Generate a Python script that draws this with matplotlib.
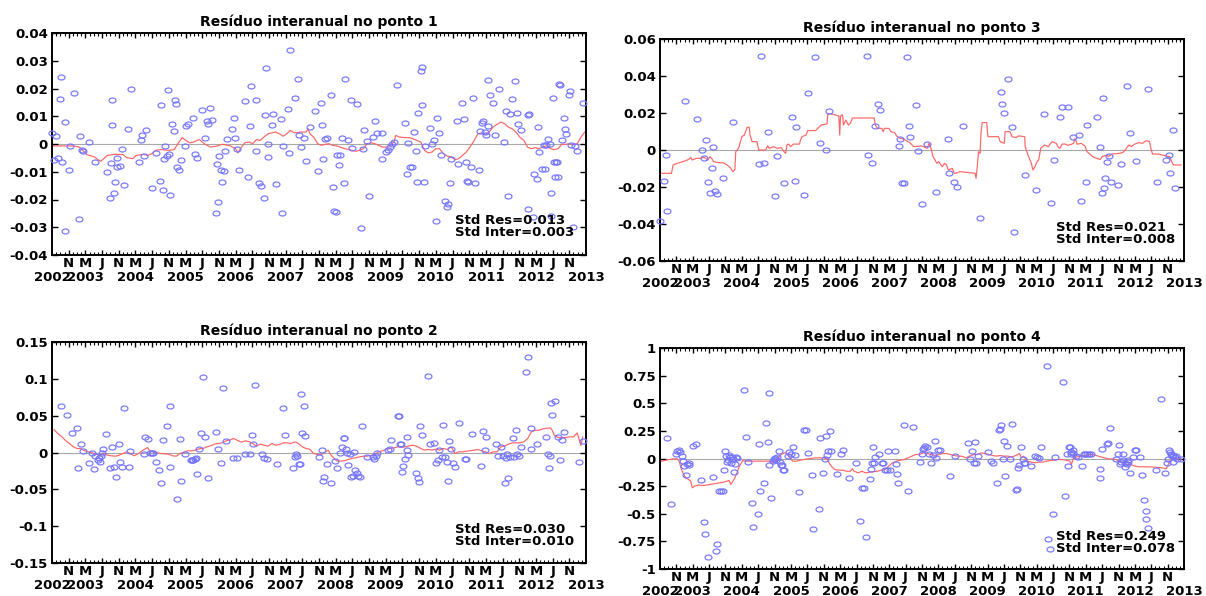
import matplotlib
matplotlib.use('Agg')
import matplotlib.pyplot as plt
import numpy as np

plt.rcParams['font.family'] = ['DejaVu Sans']
plt.rcParams['font.weight'] = 'bold'

# x values are months counted from January 2002 (0 = Jan 2002)
month_letters = ['N', 'M', 'J']
year_labels = ['2002', '2003', '2004', '2005', '2006', '2007', '2008',
               '2009', '2010', '2011', '2012', '2013']

# ---------------- Ponto 1 (values x 1e-3) ----------------
p1_res = [(6.1,4.0),(6.5,-5.9),(7.0,3.0),(7.4,-4.9),(7.9,16.2),(8.1,24.1),(8.5,-6.4),(9.0,-31.3),(9.1,7.9),
(10.2,-0.7),(10.0,-9.5),(11.3,18.5),(12.5,-26.9),(12.7,2.8),(13.2,-2.3),(13.4,-2.6),(14.8,0.8),(16.4,-6.5),
(19.1,-10.1),(19.8,-19.4),(20.2,-6.8),(20.3,16.0),(20.5,6.7),(20.9,-17.5),(21.2,-13.7),(21.5,-4.9),(21.6,-8.3),
(22.4,-7.9),(22.8,-1.9),(23.2,-14.8),(24.2,5.5),(25.0,20.0),(26.8,-6.4),(27.3,1.6),(27.6,3.4),(28.0,-4.3),
(28.5,4.9),(29.9,-15.7),(31.0,-3.4),(32.0,-13.2),(32.1,14.2),(32.6,-16.7),(32.9,-5.4),(33.2,-0.7),(33.5,-4.2),
(34.0,-3.7),(33.7,19.6),(34.4,-18.5),(34.7,7.3),(35.2,4.6),(35.5,15.7),(35.8,14.3),(36.0,-8.3),(36.4,-9.2),
(36.9,-5.9),(37.9,-0.7),(38.1,6.4),(38.5,7.1),(39.9,9.5),(40.2,-3.7),(40.8,-5.2),(42.0,12.4),(42.7,2.3),
(43.1,8.3),(43.4,7.3),(43.9,13.1),(44.3,8.8),(45.2,-24.7),(45.6,-7.1),(46.0,-4.4),(45.9,-20.9),(46.5,-9.5),
(46.8,-13.8),(47.2,-9.6),(47.5,-2.5),(48.0,1.7),(49.1,5.3),(49.7,9.5),(49.9,2.2),(50.4,-1.7),(50.9,-9.4),
(52.3,15.4),(53.0,-11.9),(53.5,6.5),(53.7,20.9),(54.8,15.8),(55.0,-2.4),(55.7,-14.0),(56.1,-15.2),(56.7,-19.4),
(57.0,10.4),(57.3,27.5),(57.8,-0.1),(57.8,-4.8),(58.7,7.0),(58.9,10.7),(59.6,-14.5),(60.8,9.0),(61.1,-24.7),
(61.4,-0.7),(62.5,12.5),(62.7,-3.4),(63.1,33.7),(64.2,16.4),(64.9,23.3),(65.3,3.4),(65.8,-1.2),(66.5,2.2),
(66.9,-6.0),(67.8,6.1),(69.0,11.8),(69.7,-9.7),(70.4,14.9),(70.8,7.0),(71.0,-5.3),(71.5,1.9),(72.0,2.2),
(72.9,17.8),(73.3,-15.5),(73.6,-24.1),(74.0,-24.6),(74.2,-3.8),(74.7,-7.6),(75.0,-3.8),(75.4,2.3),(75.9,-14.0),
(76.3,23.6),(77.0,1.3),(77.7,15.7),(77.9,-1.4),(79.1,14.3),(80.0,-30.4),(80.6,-1.9),(80.9,4.9),(81.5,1.0),
(82.0,-18.7),(82.9,2.5),(83.4,8.2),(83.8,4.0),(85.0,4.1),(85.2,-5.4),(86.1,-2.9),(86.6,-2.3),(87.0,-1.1),
(87.5,0.1),(88.0,0.7),(88.7,21.4),(90.5,7.6),(91.2,-10.7),(91.4,0.4),(91.9,-8.3),(92.3,-8.3),(92.8,4.3),
(93.3,-2.6),(93.4,-13.7),(93.7,11.3),(94.4,26.3),(94.6,27.7),(94.8,14.0),(95.1,-13.8),(95.5,-0.7),(96.6,5.8),
(97.1,0.1),(97.6,1.3),(98.0,-27.7),(98.3,9.5),(98.7,4.1),(99.2,-4.1),(100.1,-20.6),(100.6,-22.7),(100.9,-21.7),
(101.5,-14.0),(101.7,-5.3),(103.0,8.3),(103.3,-7.2),(104.2,14.8),(104.7,9.1),(105.2,-6.4),(105.5,-13.3),
(105.8,-13.8),(106.4,-8.3),(107.0,16.7),(107.4,-14.0),(108.4,-9.2),(108.5,4.6),(109.0,7.7),(109.3,8.3),
(109.9,4.3),(110.1,3.4),(110.6,6.5),(110.4,22.9),(111.1,17.6),(111.6,14.9),(112.2,3.4),(113.1,19.7),(114.3,0.7),
(114.8,12.0),(115.2,-18.8),(115.7,10.9),(116.3,16.1),(117.0,22.7),(117.5,11.3),(117.7,7.3),(118.4,4.9),
(120.0,10.3),(120.2,-23.3),(120.4,10.9),(121.2,-26.3),(121.6,-10.7),(122.3,-12.5),(122.5,6.2),(122.7,-3.0),
(123.4,-9.1),(123.9,-0.5),(124.1,-8.9),(124.5,-0.2),(125.0,1.9),(125.3,-0.1),(125.5,-17.6),(125.7,-26.0),
(126.2,16.4),(126.4,-6.5),(126.6,-11.9),(126.8,-6.5),(127.1,-6.5),(127.3,-11.9),(127.6,21.5),(127.8,21.2),
(128.2,1.3),(128.7,9.5),(128.9,5.4),(129.3,3.7),(129.9,17.8),(130.2,19.1),(130.5,-0.5),(131.0,-29.9),
(131.4,-0.8),(131.9,-2.5),(133.2,14.9)]

p1_inter = [(6.1,-0.7),(8.8,-0.7),(11.1,-0.7),(12.5,-1.1),(13.4,-2.3),(14.3,-3.8),(15.2,-4.2),(16.1,-4.6),
(17.0,-5.6),(17.7,-6.2),(18.4,-5.3),(19.3,-4.1),(21.2,-3.7),(23.0,-3.8),(23.9,-4.9),(25.3,-5.3),(26.2,-4.1),
(28.0,-3.7),(28.9,-4.2),(29.9,-3.5),(30.8,-2.3),(32.1,-2.0),(34.0,-2.3),(35.3,-2.0),(36.3,0.4),(37.2,2.3),
(38.1,1.3),(39.0,0.4),(39.9,0.7),(41.3,1.6),(42.7,-0.1),(44.0,-1.1),(45.4,-0.8),(46.8,-0.1),(48.6,-0.6),
(50.0,-1.7),(50.6,-3.2),(51.4,-1.1),(52.3,0.5),(53.2,0.7),(54.1,0.1),(55.0,1.6),(55.9,1.3),(56.8,2.5),
(57.8,3.7),(58.7,4.0),(59.6,4.3),(60.5,3.7),(61.4,2.8),(62.3,3.7),(63.1,4.9),(64.2,4.0),(65.5,4.3),(66.9,4.3),
(67.4,5.5),(67.8,3.7),(68.7,2.5),(69.7,0.1),(70.6,-0.5),(71.5,-0.1),(72.4,0.1),(73.3,-0.5),(74.2,-0.7),
(75.1,-1.1),(76.1,-1.7),(77.0,-1.9),(77.9,-2.3),(78.8,-2.6),(79.7,-2.3),(80.6,-1.7),(81.5,0.1),(82.5,0.4),
(83.4,0.1),(84.3,-0.5),(85.2,-1.1),(86.1,-1.1),(87.0,-0.5),(88.0,0.7),(88.4,3.1),(89.3,2.5),(90.7,2.3),
(91.6,2.3),(92.5,1.9),(93.4,1.3),(94.4,0.7),(95.3,-2.3),(96.2,-3.2),(97.1,-2.9),(98.0,-1.7),(98.9,-1.7),
(99.8,-3.5),(100.8,-4.4),(101.7,-4.7),(102.6,-5.6),(103.5,-5.3),(104.4,-4.1),(105.3,-2.9),(106.2,-1.1),
(107.2,1.3),(108.1,3.7),(109.0,4.0),(109.9,3.5),(110.8,4.3),(111.7,6.1),(112.7,7.1),(113.6,7.9),(114.5,7.3),
(115.4,6.1),(116.3,5.5),(117.2,4.3),(118.1,2.5),(119.1,1.3),(120.0,-1.1),(120.9,-1.7),(121.8,-1.3),
(122.7,-1.7),(123.6,-1.1),(124.5,-0.7),(125.5,-1.7),(126.4,-2.0),(127.3,-1.7),(128.2,-0.1),(129.1,-0.1),
(130.0,0.1),(131.0,-0.2),(131.9,0.1),(132.8,2.5),(133.7,4.3)]

# ---------------- Ponto 3 (values x 1e-3) ----------------
p3_res = [(6.1,-38.3),(6.9,-16.6),(7.4,-2.7),(7.8,-33.0),(12.1,26.7),(15.1,17.0),(16.3,0.0),(16.8,-4.2),
(17.3,5.2),(17.7,-17.1),(18.2,-23.1),(18.6,-9.9),(18.9,1.8),(19.4,-22.0),(19.9,-23.8),(21.3,-15.0),(23.8,15.2),
(30.2,-7.6),(30.7,50.9),(31.3,-6.9),(32.3,9.6),(34.2,-24.7),(34.6,-3.2),(36.2,-18.1),(38.2,17.7),(39.0,-16.6),
(39.3,12.3),(41.2,-24.2),(42.1,30.9),(43.8,50.0),(45.0,4.0),(46.5,0.0),(47.3,20.9),(56.5,50.9),(56.7,-2.7),
(57.8,-7.2),(58.6,12.8),(59.3,24.9),(59.7,21.5),(64.5,2.3),(64.7,6.0),(65.0,-18.1),(65.6,-17.7),(66.3,50.4),
(66.9,13.2),(67.1,7.2),(68.5,24.2),(69.0,-0.5),(69.9,-29.4),(71.1,3.2),(73.4,-22.9),(76.4,5.8),(76.7,-12.6),
(77.9,-17.3),(78.5,-20.2),(79.9,13.2),(84.2,-37.0),(89.3,31.2),(89.6,24.7),(90.1,20.2),(91.0,38.6),(92.0,12.3),
(92.5,-44.4),(95.1,-13.4),(97.9,-21.7),(99.7,19.5),(101.4,-28.7),(102.3,-5.6),(103.7,18.1),(104.2,23.1),
(105.6,23.5),(107.0,7.2),(108.4,8.3),(108.9,-27.8),(110.0,-17.5),(110.3,13.4),(112.8,18.1),(113.6,1.8),
(114.0,-23.3),(114.3,28.2),(114.5,-20.8),(114.8,-15.0),(115.3,-6.7),(115.7,-3.1),(116.2,-17.1),(117.8,-18.8),
(118.5,-7.6),(120.0,34.8),(120.9,9.4),(122.2,-6.1),(125.1,33.2),(127.4,-17.3),(129.7,-5.4),(130.3,-2.7),
(130.5,-12.3),(131.2,10.8),(131.7,-20.8)]

p3_inter = [(6.4,-12.6),(8.8,-12.6),(9.2,-8.1),(10.2,-7.2),(11.6,-6.3),(13.0,-5.1),(13.5,-4.0),(13.9,-5.4),
(14.9,-4.5),(15.8,-4.5),(16.8,-4.0),(17.7,-5.4),(18.2,-3.6),(18.6,-4.5),(19.1,-6.3),(20.5,-6.9),(21.5,-6.9),
(22.4,-8.1),(23.3,-9.9),(23.8,-11.7),(24.3,-10.5),(24.5,-0.9),(25.2,0.9),(26.0,7.2),(26.6,8.1),(27.3,12.3),
(27.8,12.3),(28.0,8.1),(28.5,4.5),(29.7,4.5),(30.1,0.0),(30.9,0.0),(31.8,0.0),(32.3,2.3),(32.7,0.9),(33.7,1.8),
(34.6,0.9),(35.6,1.3),(36.3,-0.9),(36.7,-1.8),(37.0,2.7),(37.4,3.2),(37.9,1.8),(38.6,3.2),(40.1,3.2),(40.3,5.4),
(40.7,7.2),(41.7,8.1),(42.1,10.5),(44.0,10.5),(45.0,12.6),(45.4,13.5),(46.8,14.1),(47.0,19.3),(47.6,19.5),
(48.7,19.0),(49.7,18.4),(49.9,8.1),(50.1,18.4),(50.6,19.0),(50.8,13.5),(51.4,16.2),(52.0,13.5),(52.5,14.4),
(53.0,17.3),(53.9,17.3),(58.3,17.3),(58.6,13.5),(59.1,11.7),(60.2,11.7),(60.5,9.9),(60.8,11.7),(61.9,11.7),
(62.4,9.9),(63.3,9.4),(63.8,7.6),(64.7,6.3),(65.6,5.8),(67.0,4.0),(68.0,1.8),(69.9,2.2),(70.3,1.8),(71.3,0.9),
(71.7,3.6),(72.2,0.9),(72.7,-3.6),(73.2,-5.4),(73.6,-7.2),(74.1,-6.3),(74.6,-8.1),(75.0,-9.0),(75.5,-7.2),
(76.0,-8.1),(76.4,-10.8),(77.4,-9.9),(77.9,-12.6),(78.3,-12.6),(79.3,-11.7),(83.0,-12.6),(83.2,-15.3),
(83.5,-9.0),(83.8,-0.9),(84.2,-1.8),(84.4,9.0),(84.7,14.8),(85.8,14.8),(86.1,7.2),(88.7,7.2),(89.1,4.5),
(90.1,3.6),(90.3,9.9),(91.5,9.9),(92.0,7.2),(92.9,6.7),(93.6,7.6),(95.1,7.2),(95.2,1.8),(95.9,-2.7),(96.7,-7.2),
(97.1,-10.8),(97.6,-9.0),(98.1,-6.3),(98.5,-5.4),(99.0,0.9),(99.5,1.8),(99.9,2.7),(100.9,1.8),(101.4,3.6),
(101.8,4.5),(102.8,3.6),(103.2,1.8),(103.7,0.9),(104.2,3.2),(105.1,3.2),(105.6,2.5),(106.5,3.1),(107.0,3.6),
(107.4,6.3),(107.9,3.1),(108.9,3.6),(109.8,2.2),(110.3,-0.9),(110.8,-1.8),(111.7,-3.6),(112.6,-4.5),
(113.6,-5.1),(114.0,-3.6),(114.5,-3.2),(115.0,-2.7),(115.5,-3.6),(116.4,-2.2),(118.3,-1.8),(119.0,-1.4),
(119.7,0.0),(120.2,1.8),(120.6,2.7),(121.1,1.8),(121.6,2.7),(122.0,3.2),(123.0,4.0),(123.9,3.6),(124.4,4.5),
(124.8,5.1),(125.6,4.5),(125.8,1.8),(126.3,-2.2),(127.7,-2.2),(128.6,-2.7),(130.5,-3.6),(131.0,-6.3),
(131.4,-8.1),(133.3,-8.1)]

# ---------------- Ponto 2 (values x 1e-3) ----------------
p2_res = [(8.1,62.7),(9.5,51.4),(10.9,26.6),(12.0,33.8),(12.3,-21.6),(12.9,12.2),(13.4,2.7),(14.8,-14.9),
(15.7,-0.5),(16.1,-22.6),(16.4,-5.0),(17.0,-10.4),(17.3,-8.1),(17.5,-13.5),(17.8,-4.5),(18.0,-0.5),(18.2,5.0),
(18.9,25.7),(20.0,-21.6),(20.5,6.8),(20.8,-20.3),(21.4,-33.8),(22.1,12.2),(22.3,-13.5),(22.8,-19.4),(23.3,60.0),
(24.4,-19.4),(24.8,2.7),(28.0,-2.3),(28.2,20.7),(28.9,18.0),(29.4,0.0),(29.9,0.0),(30.3,0.0),(31.0,-12.6),
(31.7,-23.5),(32.1,-41.9),(32.6,17.6),(33.5,36.5),(34.2,63.6),(34.4,-19.4),(36.0,-63.6),(36.7,18.0),
(37.0,-39.2),(37.9,-1.4),(39.2,-10.4),(39.5,-10.8),(39.9,-10.4),(40.2,-9.5),(40.6,-8.1),(40.8,-29.3),(41.3,5.4),
(41.7,26.6),(42.2,102.4),(42.7,21.2),(43.4,-35.2),(45.4,28.0),(45.7,4.1),(46.6,-14.0),(47.1,87.0),(47.7,15.8),
(49.3,-7.7),(50.3,-7.7),(52.3,-2.7),(53.4,-2.7),(53.9,24.4),(54.1,12.2),(54.6,91.1),(56.4,-1.8),(56.8,-6.8),
(57.6,-9.5),(60.0,-15.8),(61.4,60.4),(61.9,24.4),(63.7,-21.6),(64.2,-5.9),(64.4,-1.4),(64.8,-4.5),(65.1,-16.2),
(65.4,-16.2),(65.7,79.4),(66.0,27.1),(66.5,63.1),(66.7,22.1),(70.1,-5.9),(70.8,3.2),(71.0,-38.8),(71.3,-33.8),
(71.8,-15.8),(72.9,-41.0),(73.8,-11.3),(74.2,-21.6),(75.0,0.0),(75.6,7.2),(75.9,20.3),(76.1,19.8),(76.5,5.0),
(76.8,-0.5),(77.0,-17.1),(77.4,-2.3),(77.7,-32.9),(78.2,-31.6),(78.4,0.9),(78.6,-23.9),(79.0,-28.4),
(79.4,-31.6),(79.9,-32.9),(80.2,36.5),(81.5,-5.9),(82.9,-5.9),(83.2,-9.0),(83.7,-4.1),(83.8,-0.5),(86.6,3.2),
(86.9,5.4),(87.3,17.6),(88.9,49.2),(89.1,49.2),(89.3,11.3),(89.6,11.3),(89.8,-26.2),(90.2,-18.5),(90.5,-9.0),
(91.0,21.2),(91.2,3.6),(91.4,-3.6),(93.3,-28.4),(93.7,-34.3),(93.9,-40.6),(94.2,35.6),(94.8,23.9),(96.2,103.3),
(96.6,11.7),(97.6,13.1),(98.0,-14.0),(98.5,-10.4),(98.7,3.2),(99.4,-5.9),(99.7,37.4),(100.1,-5.9),(100.6,-13.5),
(101.0,-38.8),(101.2,15.3),(101.7,5.4),(102.1,-14.4),(102.6,-19.4),(103.5,40.6),(104.9,-8.6),(105.2,-8.6),
(106.7,24.8),(108.8,-18.9),(109.3,29.8),(109.9,3.2),(110.1,21.6),(112.5,12.2),(112.9,-5.0),(113.6,7.7),
(114.0,-5.0),(114.5,-41.9),(114.8,-6.8),(115.0,-2.7),(115.4,-34.3),(115.9,-5.9),(116.6,20.3),(116.8,-5.9),
(117.2,30.2),(117.5,-2.3),(118.0,-4.1),(118.3,7.2),(119.5,109.1),(120.0,129.4),(120.7,4.1),(120.9,32.9),
(122.3,11.3),(124.4,21.6),(124.8,-1.4),(125.1,-21.6),(125.3,-5.0),(125.5,67.2),(125.9,51.4),(126.6,70.4),
(127.3,20.7),(127.8,-10.4),(128.2,17.6),(128.7,28.0),(132.3,-13.1),(133.2,16.2)]

p2_inter = [(6.5,31.1),(7.4,25.7),(8.4,21.2),(9.3,15.8),(10.2,12.2),(11.1,7.7),(12.0,5.4),(12.9,5.4),(13.8,2.3),
(14.8,0.9),(15.7,-0.5),(16.6,-2.3),(17.5,-3.6),(18.4,-1.4),(19.3,-3.6),(20.2,-4.5),(21.2,-5.0),(22.1,-3.6),
(23.0,-1.4),(23.9,0.9),(24.8,-1.4),(25.7,-4.5),(26.7,-1.4),(27.6,2.3),(28.5,5.4),(28.9,6.8),(29.4,2.3),
(30.3,0.9),(32.1,-1.4),(34.0,-2.3),(34.9,-4.5),(35.8,-5.0),(36.7,-1.4),(37.6,0.5),(38.5,2.3),(39.5,2.3),
(40.4,3.2),(41.3,5.0),(42.2,5.4),(43.1,7.7),(44.0,9.0),(44.9,11.3),(45.9,12.2),(46.8,13.1),(47.7,15.8),
(48.6,16.7),(49.5,19.0),(50.4,16.7),(51.4,14.0),(52.3,15.8),(53.2,14.9),(54.1,12.2),(55.0,8.6),(55.9,11.3),
(56.8,9.9),(57.8,8.6),(58.7,12.2),(59.6,9.9),(60.5,10.8),(61.4,13.1),(62.3,13.1),(63.2,12.2),(64.2,14.4),
(65.1,12.2),(66.0,7.7),(66.9,5.4),(67.8,4.5),(68.7,-1.4),(69.7,-2.7),(70.6,-2.7),(71.5,0.9),(72.2,3.2),
(72.9,-3.6),(73.3,-5.9),(74.2,-11.3),(75.1,-11.7),(76.1,-11.3),(77.0,-9.5),(77.9,-8.1),(78.8,-7.2),(79.7,-5.9),
(80.6,-5.0),(81.5,-5.0),(82.5,-4.1),(83.4,-2.3),(84.3,0.9),(85.2,2.3),(86.1,4.5),(87.0,5.4),(88.0,6.3),
(88.9,7.7),(89.8,6.8),(90.7,7.7),(91.6,9.0),(92.5,9.9),(93.4,8.6),(94.4,5.4),(95.3,3.2),(96.2,4.1),(97.1,3.2),
(98.0,4.5),(98.9,3.2),(99.8,5.4),(100.8,4.1),(101.7,7.7),(102.6,-1.4),(103.5,0.9),(104.4,0.9),(105.3,1.8),
(106.2,2.3),(107.2,3.2),(108.1,4.1),(109.0,2.3),(109.9,0.9),(110.8,-1.4),(111.7,0.9),(112.7,0.9),(113.6,7.7),
(114.5,9.0),(115.4,11.3),(116.3,13.1),(118.1,13.1),(119.1,14.4),(120.0,18.9),(120.9,27.9),(121.8,30.2),
(122.7,30.2),(123.6,32.0),(124.5,32.9),(125.5,33.4),(125.9,30.2),(126.4,23.5),(127.3,20.3),(129.1,20.3),
(130.0,21.2),(131.0,21.2),(131.9,26.6),(132.4,16.7),(132.8,9.5),(133.2,21.2)]

# ---------------- Ponto 4 (values in units) ----------------
p4_res = [(7.8,0.19),(8.8,-0.41),(10.0,0.045),(10.2,0.066),(10.7,0.081),(10.9,0.057),(11.3,0.021),(11.6,-0.024),
(11.9,-0.069),(12.3,-0.145),(12.5,-0.054),(13.0,-0.045),(13.2,-0.063),(14.1,0.112),(14.9,0.133),(16.0,-0.199),
(16.8,-0.573),(17.0,-0.681),(17.7,-0.889),(18.9,-0.169),(19.6,-0.838),(19.9,-0.778),(20.3,-0.296),(20.8,-0.296),
(21.3,-0.296),(21.7,-0.106),(21.9,0.066),(22.2,0.021),(22.4,-0.030),(22.7,-0.018),(22.9,0.030),(23.2,0.012),
(23.3,-0.039),(23.5,0.015),(23.8,-0.009),(24.1,-0.124),(24.3,-0.054),(24.5,0.015),(24.9,0.006),(26.4,0.618),
(26.9,0.193),(27.6,-0.030),(28.5,-0.407),(28.8,-0.621),(29.9,-0.498),(30.2,0.127),(30.4,-0.296),(31.3,-0.220),
(31.8,0.317),(32.3,0.151),(32.6,0.594),(32.7,-0.060),(33.2,-0.356),(33.5,-0.024),(33.9,-0.003),(34.2,0.006),
(34.4,-0.018),(34.6,0.012),(35.1,0.066),(35.4,-0.033),(35.6,-0.060),(35.8,-0.060),(36.0,-0.106),(36.3,-0.100),
(37.3,0.027),(37.6,0.060),(37.9,0.045),(38.4,0.103),(38.9,0.036),(40.0,-0.302),(41.2,0.262),(41.7,0.262),
(42.1,0.051),(43.1,-0.151),(43.4,-0.636),(44.8,-0.455),(45.0,0.187),(45.9,-0.130),(46.2,0.0),(46.6,0.208),
(46.8,0.036),(47.1,0.066),(47.5,0.247),(47.8,0.066),(49.2,-0.136),(50.1,0.045),(50.6,0.081),(52.2,-0.172),
(53.9,-0.039),(54.8,-0.564),(55.3,-0.268),(55.8,-0.268),(56.2,-0.706),(57.2,-0.190),(57.5,-0.093),(57.8,-0.039),
(58.1,0.103),(58.3,-0.039),(58.6,0.015),(59.5,0.045),(60.2,-0.039),(60.5,-0.045),(60.9,-0.100),(61.4,-0.100),
(61.7,0.072),(62.1,-0.100),(63.3,0.066),(63.6,-0.048),(63.8,-0.136),(64.2,-0.226),(65.6,0.302),(66.6,-0.293),
(67.7,0.284),(69.4,-0.033),(69.9,0.045),(70.2,0.087),(70.5,0.093),(70.8,0.112),(71.3,0.106),(71.7,0.045),
(72.2,-0.045),(72.8,0.036),(73.2,0.154),(73.3,0.003),(73.9,0.081),(74.4,0.075),(76.9,-0.157),(78.0,0.021),
(81.3,0.136),(81.8,-0.009),(82.3,0.066),(82.6,-0.045),(83.0,0.148),(83.3,-0.045),(83.8,0.027),(86.1,0.057),
(86.8,-0.024),(87.3,-0.045),(88.2,-0.226),(88.9,0.256),(89.1,0.265),(89.4,0.302),(89.8,0.0),(90.1,0.157),
(90.3,-0.160),(90.8,0.112),(91.5,0.0),(92.1,0.308),(92.9,-0.287),(93.2,-0.274),(93.5,-0.084),(93.8,-0.063),
(94.1,0.106),(94.6,-0.003),(94.8,-0.039),(95.2,-0.045),(96.7,-0.069),(97.6,0.027),(98.1,0.015),(98.5,0.009),
(99.0,0.106),(100.9,-0.733),(101.2,-0.817),(100.6,0.841),(102.1,-0.501),(102.5,0.015),(104.5,0.691),
(104.9,-0.341),(105.3,0.042),(105.6,-0.069),(105.9,0.103),(106.1,0.106),(106.3,0.060),(106.5,0.042),
(106.8,0.051),(107.0,0.081),(107.7,0.021),(108.2,0.015),(109.1,-0.069),(109.5,0.042),(109.8,0.042),
(110.3,0.042),(110.8,0.042),(111.2,0.042),(113.4,-0.172),(113.6,-0.093),(113.9,0.087),(115.2,0.133),
(115.5,0.142),(115.9,0.277),(117.3,-0.009),(117.8,0.045),(118.1,0.121),(118.3,-0.051),(118.7,-0.033),
(119.0,-0.018),(119.2,0.045),(119.5,-0.078),(119.7,-0.045),(120.0,-0.054),(120.2,-0.033),(120.4,-0.015),
(120.9,-0.130),(121.6,0.012),(122.0,0.081),(122.3,0.081),(123.3,0.012),(123.7,-0.145),(124.2,-0.380),
(124.6,-0.471),(124.8,-0.543),(125.1,-0.630),(127.2,-0.100),(128.3,0.540),(129.3,-0.130),(129.8,-0.045),
(130.0,-0.009),(130.3,0.081),(130.5,0.057),(130.8,0.045),(131.0,0.021),(131.3,-0.033),(131.4,0.030),
(131.7,0.015),(132.0,0.027),(132.4,0.0),(133.3,-0.009)]

p4_inter = [(6.4,-0.024),(8.3,-0.009),(9.2,-0.003),(10.2,-0.003),(10.7,-0.024),(11.1,-0.084),(11.6,-0.130),
(12.3,-0.175),(13.0,-0.190),(13.5,-0.205),(13.9,-0.265),(14.4,-0.250),(15.4,-0.241),(16.8,-0.244),
(18.2,-0.235),(19.6,-0.226),(20.5,-0.220),(21.5,-0.214),(22.4,-0.205),(22.9,-0.199),(23.3,-0.235),
(23.8,-0.205),(24.3,-0.175),(24.8,-0.130),(25.2,-0.084),(26.2,-0.018),(27.1,-0.024),(32.7,-0.024),
(33.7,-0.039),(34.6,-0.003),(35.6,0.036),(36.3,0.051),(37.0,0.045),(37.4,0.021),(38.4,-0.024),(39.3,-0.024),
(40.3,-0.015),(42.1,-0.003),(44.0,0.006),(45.9,0.006),(46.8,-0.003),(47.3,-0.039),(47.8,-0.069),(48.7,-0.100),
(49.7,-0.106),(50.6,-0.106),(51.5,-0.115),(52.5,-0.115),(53.0,-0.093),(53.4,-0.115),(54.4,-0.130),
(55.3,-0.115),(56.2,-0.130),(57.2,-0.124),(59.1,-0.115),(60.0,-0.106),(60.9,-0.100),(61.4,-0.084),
(61.9,-0.069),(62.8,-0.039),(63.8,-0.024),(64.7,-0.015),(65.6,-0.009),(66.6,0.006),(67.5,0.021),(68.5,0.036),
(69.4,0.036),(70.3,0.051),(71.3,0.045),(72.2,0.036),(73.2,0.027),(74.1,0.036),(75.0,0.045),(76.0,0.045),
(76.9,0.036),(77.9,0.027),(78.8,0.021),(79.7,0.021),(80.7,0.006),(81.6,0.021),(82.6,0.036),(83.5,0.036),
(84.4,0.051),(85.4,0.045),(86.3,0.036),(87.3,0.027),(88.2,0.021),(89.1,0.027),(90.1,0.021),(91.0,0.021),
(92.0,0.015),(92.9,0.027),(93.8,0.045),(94.3,0.006),(94.8,0.021),(95.7,-0.024),(96.7,-0.033),(97.6,-0.039),
(98.5,-0.033),(99.5,-0.033),(100.4,-0.024),(101.4,-0.018),(102.3,-0.015),(103.2,-0.009),(104.2,-0.009),
(105.1,-0.015),(106.1,-0.024),(106.5,-0.054),(107.0,0.006),(107.9,0.015),(108.9,0.021),(109.8,0.027),
(110.8,0.036),(111.7,0.036),(112.6,0.027),(113.6,0.015),(114.5,0.006),(115.5,-0.003),(116.4,-0.003),
(117.3,-0.009),(118.3,-0.024),(119.2,-0.039),(120.2,-0.054),(121.1,-0.054),(122.0,-0.069),(123.0,-0.075),
(124.9,-0.075),(126.7,-0.078),(128.6,-0.084),(129.6,-0.093),(130.0,-0.069),(130.5,-0.024),(131.4,-0.003),
(132.4,0.0),(133.3,-0.009)]

titles = ['Resíduo interanual no ponto 1', 'Resíduo interanual no ponto 3',
          'Resíduo interanual no ponto 2', 'Resíduo interanual no ponto 4']
std_res = ['0.013', '0.021', '0.030', '0.249']
std_inter = ['0.003', '0.008', '0.010', '0.078']

y1_ticks = [-0.04, -0.03, -0.02, -0.01, 0, 0.01, 0.02, 0.03, 0.04]
y1_labels = ['-0.04', '-0.03', '-0.02', '-0.01', '0', '0.01', '0.02', '0.03', '0.04']
y3_ticks = [-0.06, -0.04, -0.02, 0, 0.02, 0.04, 0.06]
y3_labels = ['-0.06', '-0.04', '-0.02', '0', '0.02', '0.04', '0.06']
y2_ticks = [-0.15, -0.1, -0.05, 0, 0.05, 0.1, 0.15]
y2_labels = ['-0.15', '-0.1', '-0.05', '0', '0.05', '0.1', '0.15']
y4_ticks = [-1, -0.75, -0.5, -0.25, 0, 0.25, 0.5, 0.75, 1]
y4_labels = ['-1', '-0.75', '-0.5', '-0.25', '0', '0.25', '0.5', '0.75', '1']

BLUE = '#7474ff'
RED = '#ff6464'
GRAY = '#a8a8a8'
FS = 9.5

# slightly flattened open circle, as in the original export
_th = np.linspace(0, 2 * np.pi, 41)
ELLIPSE = np.column_stack([np.cos(_th), 0.72 * np.sin(_th)])

fig = plt.figure(figsize=(12.06, 5.96), dpi=100)
W, H = 1206.0, 596.0

def make_axes(left, top, right, bottom):
    return fig.add_axes([left / W, 1 - bottom / H, (right - left) / W, (bottom - top) / H])

def draw(ax, res, inter, scale, yticks, ylabels, title, sres, sinter, tx, ty):
    t, v = zip(*res)
    ax.plot(np.array(t), np.array(v) * scale, linestyle='none', marker=ELLIPSE, ms=5.0,
            mfc='none', mec=BLUE, mew=0.85, zorder=3, clip_on=False)
    lt, lv = zip(*inter)
    ax.plot(np.array(lt), np.array(lv) * scale, color=RED, lw=0.85, zorder=2)
    ax.axhline(0, color=GRAY, lw=0.8, zorder=1)
    ax.set_xlim(6, 134)
    ax.set_ylim(yticks[0], yticks[-1])
    ax.set_yticks(yticks)
    ax.set_yticklabels(ylabels, fontsize=FS, fontweight='bold')
    majors = list(range(10, 131, 4))
    ax.set_xticks(majors)
    ax.set_xticklabels([month_letters[i % 3] for i in range(len(majors))],
                       fontsize=FS, fontweight='bold')
    ax.set_xticks(list(range(6, 135)), minor=True)
    ax.tick_params(axis='both', which='both', direction='in', top=True, right=True)
    ax.tick_params(axis='x', which='major', length=3.5, width=1.0, pad=1.2)
    ax.tick_params(axis='x', which='minor', length=2, width=0.8)
    ax.tick_params(axis='y', which='major', length=4, width=1.0, pad=3)
    for s in ax.spines.values():
        s.set_linewidth(1.4)
    year_pos = [6] + [14 + 12 * k for k in range(11)]
    for xp, yl in zip(year_pos, year_labels):
        ax.annotate(yl, xy=(xp, 0), xycoords=('data', 'axes fraction'),
                    xytext=(0, -16), textcoords='offset points',
                    ha='center', va='center', fontsize=FS, fontweight='bold',
                    annotation_clip=False)
    ax.set_title(title, fontsize=FS + 0.5, fontweight='bold', pad=5)
    ax.text(tx, ty, 'Std Res=' + sres + '\nStd Inter=' + sinter, transform=ax.transAxes,
            ha='left', va='center', fontsize=FS, fontweight='bold', linespacing=0.92)

ax1 = make_axes(52, 33, 586, 255)
draw(ax1, p1_res, p1_inter, 1e-3, y1_ticks, y1_labels, titles[0], std_res[0], std_inter[0], 0.755, 0.128)
ax3 = make_axes(660, 39, 1184, 261)
draw(ax3, p3_res, p3_inter, 1e-3, y3_ticks, y3_labels, titles[1], std_res[1], std_inter[1], 0.756, 0.124)
ax2 = make_axes(52, 342, 586, 563)
draw(ax2, p2_res, p2_inter, 1e-3, y2_ticks, y2_labels, titles[2], std_res[2], std_inter[2], 0.755, 0.125)
ax4 = make_axes(660, 348, 1184, 569)
draw(ax4, p4_res, p4_inter, 1.0, y4_ticks, y4_labels, titles[3], std_res[3], std_inter[3], 0.756, 0.120)

fig.savefig('out.png', dpi=100)
